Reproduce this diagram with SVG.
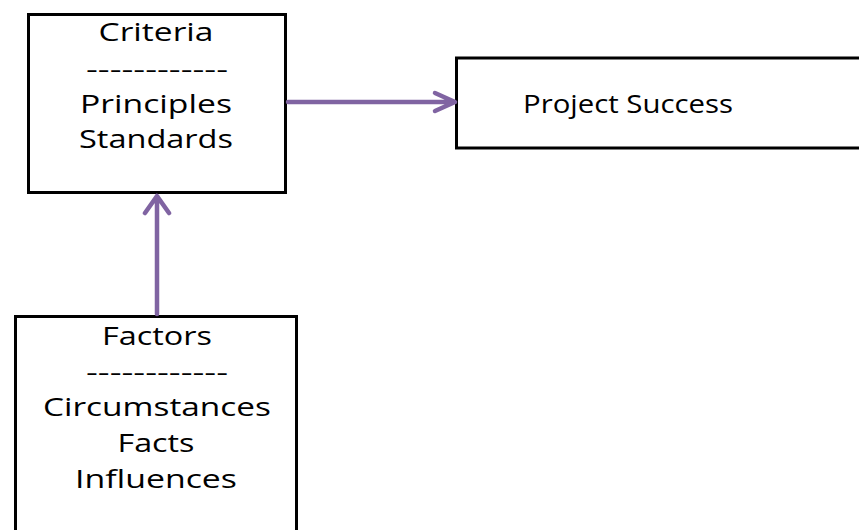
<svg xmlns="http://www.w3.org/2000/svg" width="859" height="530" viewBox="0 0 859 530">
<defs>
<style>
.box{fill:#fff;stroke:#000;stroke-width:3}
.t{font-family:"Open Sans","Liberation Sans",sans-serif;font-size:26px;fill:#000;text-anchor:middle}
.c{stroke:#8064A2;stroke-width:4.5;fill:none;stroke-linecap:round;stroke-linejoin:round}
</style>
</defs>
<rect width="859" height="530" fill="#fff"/>
<g id="criteria">
<rect class="box" x="28.5" y="14.5" width="257" height="178"/>
<text class="t" x="156" y="41" textLength="115" lengthAdjust="spacingAndGlyphs">Criteria</text>
<text class="t" x="157" y="78" textLength="142" lengthAdjust="spacingAndGlyphs">------------</text>
<text class="t" x="156" y="113" textLength="152" lengthAdjust="spacingAndGlyphs">Principles</text>
<text class="t" x="156" y="148" textLength="154" lengthAdjust="spacingAndGlyphs">Standards</text>
</g>
<g id="success">
<rect class="box" x="456.5" y="58" width="420" height="90"/>
<text class="t" x="628" y="113" textLength="210" lengthAdjust="spacingAndGlyphs">Project Success</text>
</g>
<g id="factors">
<rect class="box" x="15.5" y="316.5" width="281" height="230"/>
<text class="t" x="157" y="345" textLength="110" lengthAdjust="spacingAndGlyphs">Factors</text>
<text class="t" x="157" y="381" textLength="142" lengthAdjust="spacingAndGlyphs">------------</text>
<text class="t" x="157" y="416" textLength="228" lengthAdjust="spacingAndGlyphs">Circumstances</text>
<text class="t" x="156" y="452" textLength="77" lengthAdjust="spacingAndGlyphs">Facts</text>
<text class="t" x="156" y="488" textLength="162" lengthAdjust="spacingAndGlyphs">Influences</text>
</g>
<g id="connectors">
<path class="c" d="M288 102 H454 M435 93 L455 102 L435 111"/>
<path class="c" d="M157 314 V197 M145 213 L157 196 L169 213"/>
</g>
</svg>
